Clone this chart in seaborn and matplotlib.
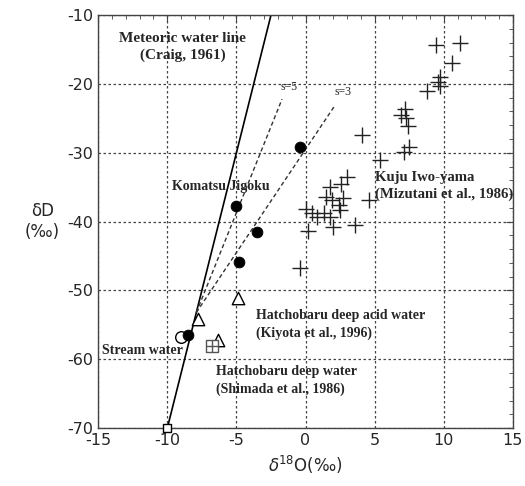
import numpy as np
import pandas as pd
import seaborn as sns
import matplotlib.pyplot as plt
from matplotlib.ticker import MultipleLocator

# Kuju Iwo-yama (Mizutani et al., 1986)
kuju_x = [9.4, 11.2, 10.6, 9.7, 9.6, 9.7, 8.8, 7.2, 6.9, 7.3, 7.4, 7.5, 7.1,
          4.1, 5.4, 4.6, 3.0, 2.6, 1.8, 1.5, 1.9, 2.7, 2.4, 2.5, 0.0, 0.5,
          0.8, 1.3, 1.8, 2.0, 3.6, 0.2, -0.4]
kuju_y = [-14.4, -14.0, -17.0, -19.0, -19.7, -20.3, -21.1, -23.6, -24.5, -25.0,
          -26.1, -29.1, -29.9, -27.4, -31.0, -36.9, -33.5, -34.5, -35.0, -36.4,
          -36.9, -36.6, -37.6, -38.3, -38.2, -38.8, -39.3, -38.8, -39.3, -40.8,
          -40.5, -41.3, -46.8]

# Komatsu Jigoku
komatsu_x = [-0.4, -3.5, -5.0, -4.8, -8.5]
komatsu_y = [-29.1, -41.5, -37.8, -45.8, -56.4]

# Stream water
stream_x = [-9.0]
stream_y = [-56.8]

# Hatchobaru deep acid water (Kiyota et al., 1996)
acid_x = [-4.9, -7.8, -6.3]
acid_y = [-51.1, -54.2, -57.2]

# Hatchobaru deep water (Shimada et al., 1986)
deep_x = [-6.8]
deep_y = [-58.1]

# small square at the foot of the meteoric water line
foot_x = [-10.0]
foot_y = [-70.0]

# lines
mwl_x = [-10.0, -2.5]
mwl_y = [-70.0, -10.0]
s5_x = [-7.9, -1.7]
s5_y = [-53.2, -22.2]
s3_x = [-7.9, 2.1]
s3_y = [-53.2, -23.2]

sns.set_style('white')
plt.rcParams['font.family'] = ['DejaVu Sans']
plt.rcParams['axes.unicode_minus'] = False

fig = plt.figure(figsize=(5.25, 4.86), dpi=100)
ax = fig.add_axes([0.187, 0.119, 0.79, 0.85])

sns.lineplot(x=mwl_x, y=mwl_y, color='black', linewidth=1.2, ax=ax)
sns.lineplot(x=s5_x, y=s5_y, color='#333333', linewidth=1.0, linestyle=(0, (3, 2)), ax=ax)
sns.lineplot(x=s3_x, y=s3_y, color='#333333', linewidth=1.0, linestyle=(0, (3, 2)), ax=ax)

sns.scatterplot(x=kuju_x, y=kuju_y, marker='+', s=120, color='#222222', linewidth=1.0, ax=ax, zorder=3)
sns.scatterplot(x=stream_x, y=stream_y, marker='o', s=70, facecolor='white', edgecolor='black', linewidth=1.0, ax=ax, zorder=3)
sns.scatterplot(x=komatsu_x, y=komatsu_y, marker='o', s=60, color='black', edgecolor='black', ax=ax, zorder=4)
sns.scatterplot(x=acid_x, y=acid_y, marker='^', s=80, facecolor='white', edgecolor='black', linewidth=1.0, ax=ax, zorder=3)
sns.scatterplot(x=deep_x, y=deep_y, marker='s', s=80, facecolor='white', edgecolor='#555555', linewidth=1.0, ax=ax, zorder=3)
sns.scatterplot(x=deep_x, y=deep_y, marker='+', s=80, color='#555555', linewidth=1.0, ax=ax, zorder=4)
sns.scatterplot(x=foot_x, y=foot_y, marker='s', s=35, facecolor='white', edgecolor='black', linewidth=1.0, ax=ax, zorder=4, clip_on=False)

ax.set_xlim(-15, 15)
ax.set_ylim(-70, -10)
ax.xaxis.set_major_locator(MultipleLocator(5))
ax.xaxis.set_minor_locator(MultipleLocator(1))
ax.yaxis.set_major_locator(MultipleLocator(10))
ax.yaxis.set_minor_locator(MultipleLocator(2))
ax.tick_params(which='both', direction='in', top=True, right=True, labelsize=11.5, color='#444444')
ax.tick_params(which='major', length=5)
ax.tick_params(which='minor', length=3)
ax.grid(True, which='major', linestyle=(0, (2, 2)), color='#444444', linewidth=0.9)
for sp in ax.spines.values():
    sp.set_color('#444444')
    sp.set_linewidth(1.0)

ax.set_xlabel(r'$\delta$$^{18}$O(‰)', fontsize=12)
ax.set_ylabel('δD\n(‰)', fontsize=12, rotation=0, labelpad=18, va='center')

serif = dict(family='Liberation Serif', fontweight='bold')
ax.text(-8.9, -14.6, 'Meteoric water line\n(Craig, 1961)', ha='center', va='center', linespacing=1.3, fontsize=11, **serif)
ax.text(-1.8, -20.5, 's=5', ha='left', va='center', family='Liberation Serif', fontsize=8.5)
ax.text(2.1, -21.2, 's=3', ha='left', va='center', family='Liberation Serif', fontsize=8.5)
ax.text(-9.65, -34.9, 'Komatsu Jigoku', ha='left', va='center', fontsize=10, **serif)
ax.text(5.0, -34.8, 'Kuju Iwo-yama\n(Mizutani et al., 1986)', ha='left', va='center', linespacing=1.3, fontsize=10.6, **serif)
ax.text(-3.6, -54.9, 'Hatchobaru deep acid water\n(Kiyota et al., 1996)', ha='left', va='center', linespacing=1.4, fontsize=10, **serif)
ax.text(-14.7, -58.7, 'Stream water', ha='left', va='center', fontsize=10, **serif)
ax.text(-6.5, -63.1, 'Hatchobaru deep water\n(Shimada et al., 1986)', ha='left', va='center', linespacing=1.4, fontsize=10, **serif)

fig.savefig('out.png', dpi=100)
